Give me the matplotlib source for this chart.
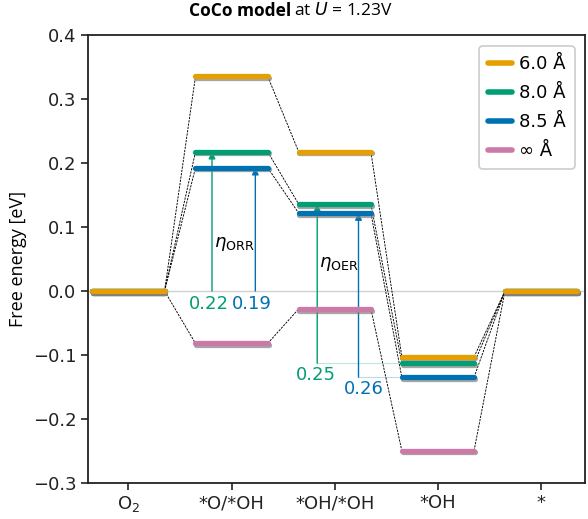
import matplotlib
matplotlib.use("Agg")
import matplotlib.pyplot as plt
import matplotlib.patheffects as pe

# Reaction steps and free energies per Co-Co distance
steps = ["O$_2$", "*O/*OH", "*OH/*OH", "*OH", "*"]
series = ["6.0 Å", "8.0 Å", "8.5 Å", "∞ Å"]
colors = ["#E69F00", "#009E73", "#0072B2", "#CC79A7"]
e_60 = [0.0, 0.336, 0.218, -0.103, 0.0]
e_80 = [0.0, 0.218, 0.136, -0.113, 0.0]
e_85 = [0.0, 0.193, 0.122, -0.135, 0.0]
e_inf = [0.0, -0.082, -0.028, -0.250, 0.0]
energies = [e_60, e_80, e_85, e_inf]

# overpotential labels
eta_orr = [0.22, 0.19]
eta_oer = [0.25, 0.26]

hw = 0.35  # half width of a level
fig = plt.figure(figsize=(5.88, 5.19), dpi=100)
ax = fig.add_axes([0.150, 0.070, 0.8457, 0.8616])

ax.axhline(0, color="#d0d0d0", lw=1.0, zorder=0)

shadow = [pe.SimpleLineShadow(offset=(0.6, -1.2), shadow_color="gray", alpha=0.7),
          pe.Normal()]
for k, (lab, col, en) in enumerate(zip(series, colors, energies)):
    z = 10 - k
    for i, e in enumerate(en):
        ax.plot([i - hw, i + hw], [e, e], color=col, lw=3.8, solid_capstyle="round",
                path_effects=shadow, zorder=z, label=lab if i == 0 else None)
        if i < len(en) - 1:
            ax.plot([i + hw, i + 1 - hw], [e, en[i + 1]], color="black", lw=0.65,
                    ls=(0, (2.5, 1.2)), zorder=2)

# ORR arrows (from 0 up to *O/*OH level)
orr_x = [0.81, 1.23]
for k, x, val in zip([1, 2], orr_x, eta_orr):
    ax.annotate("", xy=(x, energies[k][1]), xytext=(x, 0),
                arrowprops=dict(arrowstyle="-|>", color=colors[k], lw=1.0,
                                shrinkA=0, shrinkB=0, mutation_scale=10), zorder=3)
    ax.text(x - 0.03, -0.006, f"{val:.2f}", color=colors[k], fontsize=13,
            ha="center", va="top")
ax.text(0.83, 0.074, r"$\eta_\mathrm{ORR}$", fontsize=13, ha="left", va="center")

# OER arrows (from *OH level up to *OH/*OH level)
oer_x = [1.83, 2.23]
oer_off = [0.0, 0.06]
for k, x, val, dx in zip([1, 2], oer_x, eta_oer, oer_off):
    ax.plot([x, 3 - hw], [energies[k][3], energies[k][3]], color=colors[k],
            lw=0.8, alpha=0.25, zorder=1)
    ax.annotate("", xy=(x, energies[k][2]), xytext=(x, energies[k][3]),
                arrowprops=dict(arrowstyle="-|>", color=colors[k], lw=1.0,
                                shrinkA=0, shrinkB=0, mutation_scale=10), zorder=3)
    ax.text(x + dx - 0.01, energies[k][3] - 0.005, f"{val:.2f}", color=colors[k],
            fontsize=13, ha="center", va="top")
ax.text(1.85, 0.042, r"$\eta_\mathrm{OER}$", fontsize=13, ha="left", va="center")

ax.set_xlim(-0.39, 4.43)
ax.set_ylim(-0.3, 0.4)
ax.set_xticks(range(len(steps)))
ax.set_xticklabels(steps)
ax.set_yticks([-0.3, -0.2, -0.1, 0.0, 0.1, 0.2, 0.3, 0.4])
ax.tick_params(labelsize=13, length=5, width=1.2, colors="#222222")
for s in ax.spines.values():
    s.set_linewidth(1.3)
    s.set_color("#222222")
ax.set_ylabel("Free energy [eV]", fontsize=13, family="Open Sans", labelpad=4)

leg = ax.legend(loc="upper right", fontsize=13, handlelength=1.3, handletextpad=0.4,
                borderpad=0.5, labelspacing=0.6, fancybox=True, framealpha=1,
                edgecolor="#cccccc", borderaxespad=0.6)
leg.get_frame().set_linewidth(1.2)
for h in leg.get_lines():
    h.set_linewidth(4)
    h.set_path_effects([])

fig.text(0.495, 0.979, r"CoCo model", fontsize=12.5, family="Open Sans",
         weight="bold", ha="right", va="center")
fig.text(0.5, 0.979, r"at $U$ = 1.23V", fontsize=12.5, family="Open Sans",
         ha="left", va="center")

fig.savefig("out.png", dpi=100)
